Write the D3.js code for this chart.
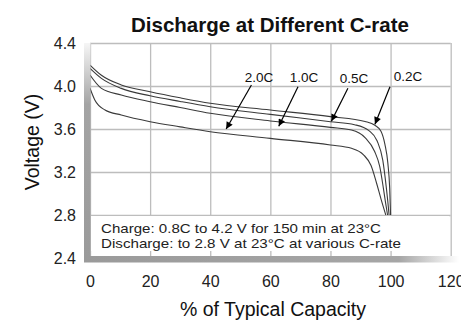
<!DOCTYPE html>
<html>
<head>
<meta charset="utf-8">
<script src="https://cdn.jsdelivr.net/npm/d3@7"></script>
<style>
  html, body { margin: 0; padding: 0; background: #fff; }
  svg { display: block; font-family: "Liberation Sans", Arial, sans-serif; }
</style>
</head>
<body>
<div class="graph"></div>
<script>
// discharge curves, [% of typical capacity, voltage]
const rates = ['0.2C', '0.5C', '1.0C', '2.0C']
const curve02C = [[0,4.195],[3.8,4.10],[10.4,4.01],[20,3.947],[30,3.89],[40,3.839],[60,3.777],[80,3.715],[91.5,3.67],[94.8,3.635],[96.8,3.58],[98.1,3.46],[99.1,3.28],[99.7,3.05],[100,2.8]]
const curve05C = [[0,4.164],[3.8,4.071],[10.4,3.978],[20,3.909],[30,3.856],[40,3.807],[60,3.736],[80,3.668],[88,3.64],[92.8,3.585],[95.5,3.49],[97.4,3.31],[98.6,3.05],[99.1,2.92],[99.5,2.8]]
const curve10C = [[0,4.102],[3.8,3.978],[10.4,3.916],[20,3.854],[30,3.80],[40,3.746],[60,3.675],[80,3.615],[87,3.59],[91.5,3.52],[94.7,3.39],[96.4,3.25],[97.6,3.05],[98.3,2.92],[99,2.8]]
const curve20C = [[0,3.979],[1.6,3.87],[5,3.777],[10.4,3.73],[20,3.668],[30,3.62],[40,3.575],[60,3.513],[80,3.451],[87,3.42],[91,3.36],[93.5,3.26],[95.3,3.1],[96.8,2.95],[98.4,2.8]]
const curves = [curve02C, curve05C, curve10C, curve20C]

const xTicks = [0, 20, 40, 60, 80, 100, 120]
const yTicks = [2.4, 2.8, 3.2, 3.6, 4.0, 4.4]

// arrow labels: text point, arrow start, arrow tip (data units)
const arrowLabels = ['2.0C', '1.0C', '0.5C', '0.2C']
const arrowText = [[56.2,4.04],[71.2,4.04],[87.8,4.027],[105.8,4.045]]
const arrowFrom = [[53.7,4.009],[69.2,3.993],[85.8,3.979],[99.8,3.993]]
const arrowTo = [[45.3,3.60],[62.8,3.625],[80.3,3.672],[94.8,3.645]]

const noteLines = ['Charge: 0.8C to 4.2 V for 150 min at 23°C', 'Discharge: to 2.8 V at 23°C at various C-rate']
const noteWidths = [280, 300]

const W = 461, H = 322
const plot = { left: 90, right: 450.7, top: 43, bottom: 258 }

const svg = d3.select('.graph').append('svg').attr('width', W).attr('height', H)

const x = d3.scaleLinear().domain([0, 120]).range([plot.left, plot.right])
const y = d3.scaleLinear().domain([2.4, 4.4]).range([plot.bottom, plot.top])

const defs = svg.append('defs')
const gl = defs.append('linearGradient').attr('id', 'leftBar').attr('x1', 0).attr('y1', 0).attr('x2', 0).attr('y2', 1)
gl.append('stop').attr('offset', '0%').attr('stop-color', '#f6f6f6')
gl.append('stop').attr('offset', '28%').attr('stop-color', '#a4a4a4')
gl.append('stop').attr('offset', '100%').attr('stop-color', '#9a9a9a')
const gb = defs.append('linearGradient').attr('id', 'bottomBar').attr('x1', 0).attr('y1', 0).attr('x2', 1).attr('y2', 0)
gb.append('stop').attr('offset', '0%').attr('stop-color', '#9a9a9a')
gb.append('stop').attr('offset', '84%').attr('stop-color', '#a6a6a6')
gb.append('stop').attr('offset', '100%').attr('stop-color', '#ffffff')
defs.append('marker').attr('id', 'arrow')
  .attr('viewBox', '0 0 10 10').attr('refX', 10).attr('refY', 5)
  .attr('markerWidth', 9).attr('markerHeight', 7).attr('markerUnits', 'userSpaceOnUse')
  .attr('orient', 'auto')
  .append('path').attr('d', 'M0,0L10,5L0,10z').attr('fill', '#000')

//grid from the axes
const xAxis = svg.append('g').attr('transform', `translate(0,${plot.bottom})`)
  .call(d3.axisBottom(x).tickValues(xTicks).tickSize(-(plot.bottom - plot.top)).tickPadding(18).tickFormat(d3.format('d')))
const yAxis = svg.append('g').attr('transform', `translate(${plot.left},0)`)
  .call(d3.axisLeft(y).tickValues(yTicks).tickSize(-(plot.right - plot.left)).tickPadding(14).tickFormat(d3.format('.1f')))
svg.selectAll('.domain').remove()
svg.selectAll('.tick line').attr('stroke', '#bdbdbd').attr('stroke-width', 1.3)
svg.selectAll('.tick text').attr('fill', '#222').attr('font-size', 16).attr('font-family', '"Liberation Sans", Arial, sans-serif')

//note box
svg.append('rect').attr('x', plot.left + 1).attr('y', 216).attr('width', plot.right - plot.left - 2.5).attr('height', 35).attr('fill', '#fff')
svg.selectAll('.note').data(noteLines).enter().append('text')
  .attr('x', 101).attr('y', (d, i) => 232.5 + i * 15.5)
  .attr('font-size', 13.5).attr('fill', '#222')
  .attr('textLength', (d, i) => noteWidths[i]).attr('lengthAdjust', 'spacingAndGlyphs')
  .text(d => d)

//curves
const line = d3.line().x(d => x(d[0])).y(d => y(d[1])).curve(d3.curveMonotoneX)
svg.selectAll('.curve').data(curves).enter().append('path')
  .attr('d', line).attr('fill', 'none').attr('stroke', '#3a3a3a').attr('stroke-width', 1.1)

//arrows + labels
arrowLabels.forEach((lab, i) => {
  svg.append('line')
    .attr('x1', x(arrowFrom[i][0])).attr('y1', y(arrowFrom[i][1]))
    .attr('x2', x(arrowTo[i][0])).attr('y2', y(arrowTo[i][1]))
    .attr('stroke', '#000').attr('stroke-width', 1.2).attr('marker-end', 'url(#arrow)')
  svg.append('text').attr('x', x(arrowText[i][0])).attr('y', y(arrowText[i][1]))
    .attr('text-anchor', 'middle').attr('font-size', 13.5).attr('fill', '#111').text(lab)
})

//3d frame bars
svg.append('rect').attr('x', 84).attr('y', plot.top).attr('width', 6.5).attr('height', 219).attr('fill', 'url(#leftBar)')
svg.append('rect').attr('x', 84).attr('y', 256).attr('width', 375).attr('height', 6.5).attr('fill', 'url(#bottomBar)')

//titles
svg.append('text').attr('x', 270).attr('y', 31.5).attr('text-anchor', 'middle')
  .attr('font-size', 20.5).attr('font-weight', 'bold').attr('fill', '#111').text('Discharge at Different C-rate')
svg.append('text').attr('x', 273).attr('y', 316).attr('text-anchor', 'middle')
  .attr('font-size', 19.5).attr('fill', '#111').text('% of Typical Capacity')
svg.append('text').attr('transform', 'translate(39,142) rotate(-90)').attr('text-anchor', 'middle')
  .attr('font-size', 19.5).attr('fill', '#111').text('Voltage (V)')
</script>
</body>
</html>
